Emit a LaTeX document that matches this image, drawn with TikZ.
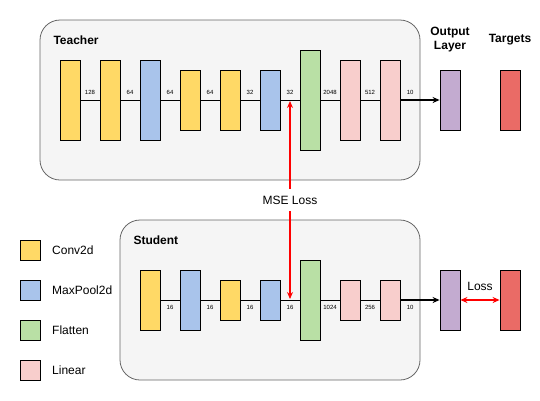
\documentclass[tikz,border=0pt]{standalone}
\usepackage{fontspec}
\setmainfont{Liberation Sans}
\usetikzlibrary{arrows.meta}

\definecolor{conv}{HTML}{FFD966}
\definecolor{pool}{HTML}{A9C4EB}
\definecolor{flat}{HTML}{B9E0A5}
\definecolor{lin}{HTML}{F8CECC}
\definecolor{outl}{HTML}{C3ABD0}
\definecolor{targ}{HTML}{EA6B66}
\definecolor{panelfill}{HTML}{F5F5F5}
\definecolor{panelline}{HTML}{666666}
\definecolor{lossred}{HTML}{FF0000}

\begin{document}
\begin{tikzpicture}[x=1pt,y=-1pt,
  panel/.style={draw=panelline, fill=panelfill, line width=0.8pt, rounded corners=20pt},
  layerbox/.style={draw, line width=0.8pt, minimum width=20pt, inner sep=0pt},
  dim/.style={font=\fontsize{6}{6}\selectfont, inner sep=1pt},
  title/.style={font=\bfseries\fontsize{12}{14}\selectfont, align=center},
  plain/.style={font=\fontsize{12}{14}\selectfont},
  outarrow/.style={line width=1.6pt, -{Stealth[length=7pt,width=6pt]}},
  lossarrow/.style={draw=lossred, line width=1.2pt},
  redtip/.style={-{Stealth[length=7pt,width=6pt]}},
  redtips/.style={{Stealth[length=7pt,width=6pt]}-{Stealth[length=7pt,width=6pt]}}]
\useasboundingbox (0,0) rectangle (540,400);

% panels
\draw[panel] (40,20) rectangle (420,180);
\draw[panel] (120,220) rectangle (420,380);
\node[title, anchor=west] (teacher) at (50,40) {Teacher};
\node[title, anchor=west] (student) at (130,240) {Student};

% teacher layers
\foreach \name/\x/\h/\col in {t1/70/80/conv, t2/110/80/conv, t3/150/80/pool,
    t4/190/60/conv, t5/230/60/conv, t6/270/60/pool, t7/310/100/flat,
    t8/350/80/lin, t9/390/80/lin} {
  \node[layerbox, fill=\col, minimum height=\h pt] (\name) at (\x,100) {};
}
\foreach \a/\b/\lab in {t1/t2/128, t2/t3/64, t3/t4/64, t4/t5/64, t5/t6/32,
    t6/t7/32, t7/t8/2048, t8/t9/512} {
  \draw[line width=0.8pt] (\a) -- node[dim, above=4pt] {\lab} (\b);
}
\node[layerbox, fill=outl, minimum height=60pt] (tout) at (450,100) {};
\node[layerbox, fill=targ, minimum height=60pt] (ttarg) at (510,100) {};
\draw[outarrow] (t9) -- node[dim, above=4pt, pos=0.25] {10} (tout);
\node[title] (outlabel) at (450,40) {Output\\Layer};
\node[title] (targlabel) at (510,40) {Targets};

% student layers
\foreach \name/\x/\h/\col in {s1/150/60/conv, s2/190/60/pool, s3/230/40/conv,
    s4/270/40/pool, s5/310/80/flat, s6/350/40/lin, s7/390/40/lin} {
  \node[layerbox, fill=\col, minimum height=\h pt] (\name) at (\x,300) {};
}
\foreach \a/\b/\lab in {s1/s2/16, s2/s3/16, s3/s4/16, s4/s5/16, s5/s6/1024,
    s6/s7/256} {
  \draw[line width=0.8pt] (\a) -- node[dim, below=4pt] {\lab} (\b);
}
\node[layerbox, fill=outl, minimum height=60pt] (sout) at (450,300) {};
\node[layerbox, fill=targ, minimum height=60pt] (starg) at (510,300) {};
\draw[outarrow] (s7) -- node[dim, below=4pt, pos=0.25] {10} (sout);

% losses
\node[plain, inner sep=7pt] (mse) at (290,200) {MSE Loss};
\coordinate (tfeat) at (290,101);
\coordinate (sfeat) at (290,299);
\draw[lossarrow, redtip] (mse) -- (tfeat);
\draw[lossarrow, redtip] (mse) -- (sfeat);
\draw[lossarrow, redtips] (sout) -- node[plain, black, above=5pt] {Loss} (starg);

% legend
\foreach \name/\y/\col/\lab in {legconv/250/conv/Conv2d, legpool/290/pool/MaxPool2d,
    legflat/330/flat/Flatten, leglin/370/lin/Linear} {
  \node[layerbox, fill=\col, minimum height=20pt] (\name) at (30,\y) {};
  \node[plain, anchor=west, inner sep=0pt] at (52,\y) {\lab};
}
\end{tikzpicture}
\end{document}
